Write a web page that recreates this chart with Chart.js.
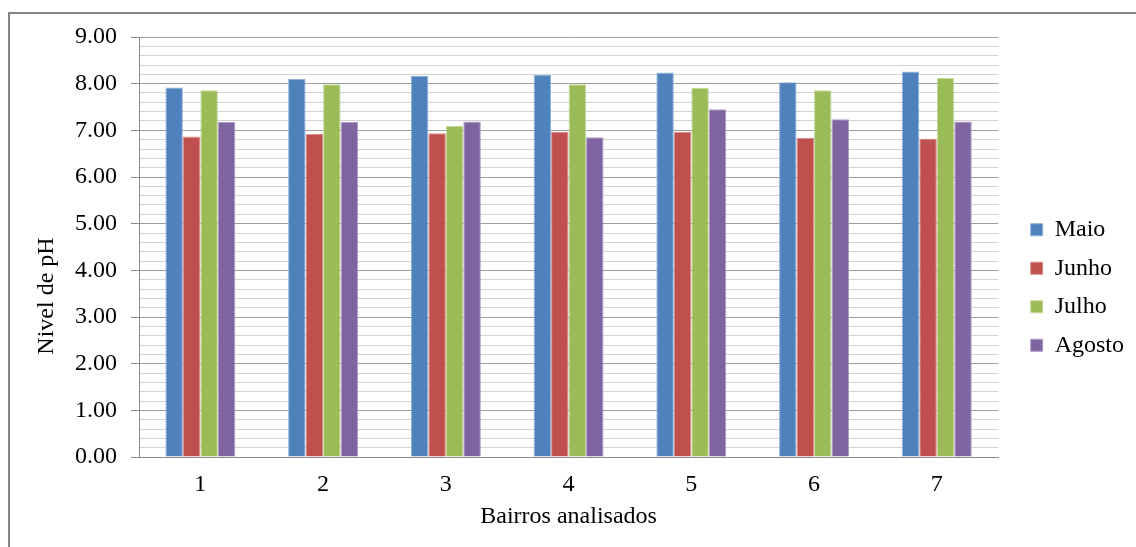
<!DOCTYPE html>
<html>
<head>
<meta charset="utf-8">
<script src="https://cdn.jsdelivr.net/npm/chart.js@4/dist/chart.umd.min.js"></script>
<style>
  html, body { margin: 0; padding: 0; background: #fff; }
  #wrap { position: relative; width: 1136px; height: 547px; overflow: hidden; }
  #frame { position: absolute; left: 8px; top: 12px; width: 1200px; height: 600px;
           border-left: 2px solid #858585; border-top: 2px solid #858585; }
  #chart { position: absolute; left: 0; top: 0; }
</style>
</head>
<body>
<div id="wrap">
  <div id="frame"></div>
  <canvas id="chart" width="1136" height="547"></canvas>
</div>
<script>
// bairros (eixo x)
const bairros = ["1", "2", "3", "4", "5", "6", "7"];

// nivel de pH por mes
const maio   = [7.92, 8.10, 8.17, 8.19, 8.24, 8.03, 8.26];
const junho  = [6.87, 6.92, 6.94, 6.97, 6.97, 6.84, 6.82];
const julho  = [7.86, 7.99, 7.10, 7.99, 7.91, 7.86, 8.12];
const agosto = [7.18, 7.18, 7.19, 6.85, 7.45, 7.24, 7.19];

const yMin = 0, yMax = 9, yStep = 0.2;
const xTitle = "Bairros analisados";
const yTitleText = "Nivel de pH";

const font = "Liberation Serif";
const fsize = 24;

function isMajor(v) {
  return Math.abs(v - Math.round(v)) < 1e-6;
}

// titulo do eixo y desenhado um pouco abaixo do centro, como no original
const yTitle = {
  id: "yTitle",
  afterDraw(chart) {
    const { ctx, chartArea } = chart;
    ctx.save();
    ctx.translate(chartArea.left - 92, (chartArea.top + chartArea.bottom) / 2 + 49);
    ctx.rotate(-Math.PI / 2);
    ctx.font = `${fsize}px "${font}"`;
    ctx.fillStyle = "#000";
    ctx.textAlign = "center";
    ctx.textBaseline = "middle";
    ctx.fillText(yTitleText, 0, 0);
    ctx.restore();
  }
};

new Chart(document.getElementById("chart"), {
  type: "bar",
  data: {
    labels: bairros,
    datasets: [
      { label: "Maio",   data: maio,   backgroundColor: "#4F81BD", borderColor: "#8FB0D9" },
      { label: "Junho",  data: junho,  backgroundColor: "#C0504D", borderColor: "#D98C8A" },
      { label: "Julho",  data: julho,  backgroundColor: "#9BBB59", borderColor: "#C4D99A" },
      { label: "Agosto", data: agosto, backgroundColor: "#8064A2", borderColor: "#AE9AC6" }
    ].map(d => Object.assign(d, { borderWidth: 1, borderSkipped: "bottom" }))
  },
  options: {
    responsive: false,
    animation: false,
    categoryPercentage: 0.57,
    barPercentage: 1,
    layout: { padding: { left: 61, right: 2, top: 37, bottom: 9 } },
    plugins: {
      legend: {
        position: "right",
        labels: {
          font: { family: font, size: fsize },
          color: "#000",
          boxWidth: 12,
          boxHeight: 12,
          padding: 14.5
        }
      },
      tooltip: { enabled: false }
    },
    scales: {
      x: {
        grid: { display: false, drawTicks: true, tickLength: 16 },
        border: { display: true, color: "#8a8a8a" },
        ticks: { color: "#000", font: { family: font, size: fsize, lineHeight: 1 }, padding: 0 },
        title: {
          display: true, text: xTitle, color: "#000",
          font: { family: font, size: fsize },
          padding: { top: 5.6, bottom: 6.6 }
        }
      },
      y: {
        min: yMin, max: yMax,
        grid: {
          color: c => isMajor(c.tick.value) ? "#9e9e9e" : "#d3d3d3",
          tickColor: c => isMajor(c.tick.value) ? "#8a8a8a" : "rgba(0,0,0,0)",
          tickLength: 8
        },
        border: { display: true, color: "#8a8a8a" },
        ticks: {
          stepSize: yStep,
          autoSkip: false,
          color: "#000",
          font: { family: font, size: fsize },
          padding: 14,
          callback: v => isMajor(v) ? Number(v).toFixed(2) : ""
        }
      },
      // espaco vazio entre o grafico e a legenda
      gap: {
        position: "right",
        grid: { display: false },
        border: { display: false },
        ticks: { display: false },
        afterFit(s) { s.width = 18; }
      }
    }
  },
  plugins: [yTitle]
});
</script>
</body>
</html>
